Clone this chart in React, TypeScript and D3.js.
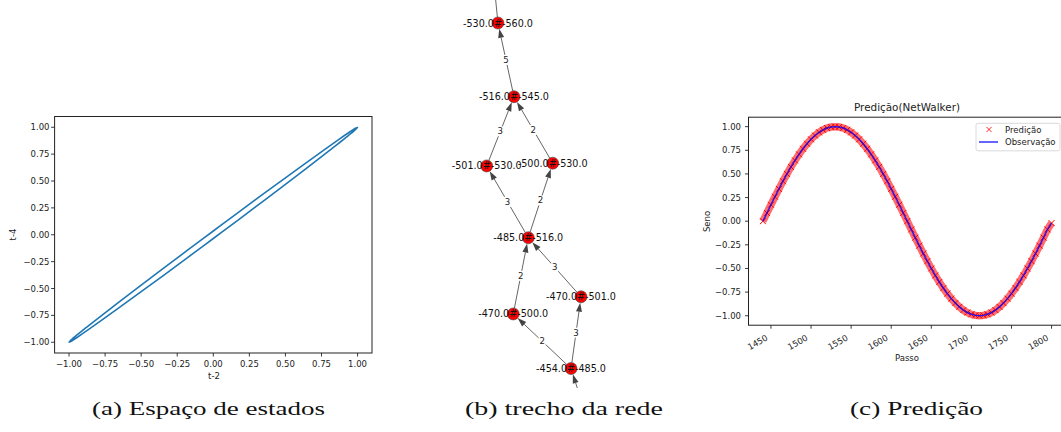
import * as d3 from "d3";

// (a) espaço de estados: pares (t-2, t-4), amostrados a cada 10 passos
const tMenos2 = [
  0, 0.174, 0.342, 0.5, 0.643, 0.766, 0.866, 0.94, 0.985, 1, 0.985, 0.94,
  0.866, 0.766, 0.643, 0.5, 0.342, 0.174, 0, -0.174, -0.342, -0.5, -0.643, -0.766,
  -0.866, -0.94, -0.985, -1, -0.985, -0.94, -0.866, -0.766, -0.643, -0.5, -0.342, -0.174,
];
const tMenos4 = [
  -0.035, 0.139, 0.309, 0.469, 0.616, 0.743, 0.848, 0.927, 0.978, 0.999, 0.99, 0.951,
  0.883, 0.788, 0.669, 0.53, 0.375, 0.208, 0.035, -0.139, -0.309, -0.469, -0.616, -0.743,
  -0.848, -0.927, -0.978, -0.999, -0.99, -0.951, -0.883, -0.788, -0.669, -0.53, -0.375, -0.208,
];
const ticksA = [-1, -0.75, -0.5, -0.25, 0, 0.25, 0.5, 0.75, 1];

// (b) trecho da rede: nós (posição do layout) e arestas com pesos
const nos = [
  "-530.0#-560.0", "-516.0#-545.0", "-501.0#-530.0", "-500.0#-530.0",
  "-485.0#-516.0", "-470.0#-501.0", "-470.0#-500.0", "-454.0#-485.0", "", "",
];
const noX = [-0.356, -0.178, -0.481, 0.252, -0.019, 0.567, -0.186, 0.456, -0.448, 0.711];
const noY = [0.882, 0.504, 0.149, 0.163, -0.219, -0.522, -0.61, -0.89, 1.308, -1.256];
const arestaOrigem = [7, 7, 6, 5, 4, 4, 2, 3, 1, 0, 9];
const arestaDestino = [6, 5, 4, 4, 2, 3, 1, 1, 0, 8, 7];
const arestaPeso = [2, 3, 2, 3, 3, 2, 3, 2, 5, null, null];

// (c) predição: passo, observação e predição (a cada 5 passos)
const passo = [
  1440, 1445, 1450, 1455, 1460, 1465, 1470, 1475, 1480, 1485, 1490, 1495,
  1500, 1505, 1510, 1515, 1520, 1525, 1530, 1535, 1540, 1545, 1550, 1555,
  1560, 1565, 1570, 1575, 1580, 1585, 1590, 1595, 1600, 1605, 1610, 1615,
  1620, 1625, 1630, 1635, 1640, 1645, 1650, 1655, 1660, 1665, 1670, 1675,
  1680, 1685, 1690, 1695, 1700, 1705, 1710, 1715, 1720, 1725, 1730, 1735,
  1740, 1745, 1750, 1755, 1760, 1765, 1770, 1775, 1780, 1785, 1790, 1795, 1800,
];
const observacao = [
  0, 0.087, 0.174, 0.259, 0.342, 0.423, 0.5, 0.574, 0.643, 0.707, 0.766, 0.819,
  0.866, 0.906, 0.94, 0.966, 0.985, 0.996, 1, 0.996, 0.985, 0.966, 0.94, 0.906,
  0.866, 0.819, 0.766, 0.707, 0.643, 0.574, 0.5, 0.423, 0.342, 0.259, 0.174, 0.087,
  0, -0.087, -0.174, -0.259, -0.342, -0.423, -0.5, -0.574, -0.643, -0.707, -0.766, -0.819,
  -0.866, -0.906, -0.94, -0.966, -0.985, -0.996, -1, -0.996, -0.985, -0.966, -0.94, -0.906,
  -0.866, -0.819, -0.766, -0.707, -0.643, -0.574, -0.5, -0.423, -0.342, -0.259, -0.174, -0.087, -0.02,
];
// a predição coincide com a observação na resolução da figura
const predicao = observacao;
const ticksCx = [1450, 1500, 1550, 1600, 1650, 1700, 1750, 1800];
const ticksCy = [-1, -0.75, -0.5, -0.25, 0, 0.25, 0.5, 0.75, 1];

const legendas = ["(a) Espaço de estados", "(b) trecho da rede", "(c) Predição"];

const fmt = (v: number) => d3.format(".2f")(v).replace("-", "\u2212");
const SANS = "DejaVu Sans";
const INK = "#222";

function PainelA() {
  const x = d3.scaleLinear().domain([-1.1, 1.1]).range([54.6, 372]);
  const y = d3.scaleLinear().domain([-1.1, 1.1]).range([353, 116.5]);
  const linha = d3
    .line<number>()
    .x((d) => x(tMenos2[d]))
    .y((d) => y(tMenos4[d]))
    .curve(d3.curveCatmullRomClosed);
  return (
    <g fontFamily={SANS} fontSize={8.5} fill={INK}>
      <path d={linha(d3.range(tMenos2.length)) || ""} fill="none" stroke="#1f77b4" strokeWidth={1.6} />
      <rect x={54.6} y={116.5} width={372 - 54.6} height={353 - 116.5} fill="none" stroke={INK} strokeWidth={1} />
      {ticksA.map((t) => (
        <g key={"x" + t}>
          <line x1={x(t)} x2={x(t)} y1={353} y2={356.5} stroke={INK} strokeWidth={0.9} />
          <text x={x(t)} y={363.5} textAnchor="middle" dominantBaseline="central">{fmt(t)}</text>
        </g>
      ))}
      {ticksA.map((t) => (
        <g key={"y" + t}>
          <line x1={51.1} x2={54.6} y1={y(t)} y2={y(t)} stroke={INK} strokeWidth={0.9} />
          <text x={49.5} y={y(t)} textAnchor="end" dominantBaseline="central">{fmt(t)}</text>
        </g>
      ))}
      <text x={214} y={375.5} textAnchor="middle" dominantBaseline="central">t-2</text>
      <text transform="translate(13,234.5) rotate(-90)" textAnchor="middle" dominantBaseline="central">t-4</text>
    </g>
  );
}

function PainelB() {
  const x = d3.scaleLinear().domain([-1, 1]).range([440, 620]);
  const y = d3.scaleLinear().domain([-1, 1]).range([390, 0]);
  const r = 6;
  const arestas = arestaOrigem.map((s, i) => {
    const t = arestaDestino[i];
    const x1 = x(noX[s]), y1 = y(noY[s]), x2 = x(noX[t]), y2 = y(noY[t]);
    const len = Math.hypot(x2 - x1, y2 - y1);
    const ux = (x2 - x1) / len, uy = (y2 - y1) / len;
    const tipX = x2 - ux * r, tipY = y2 - uy * r;
    const baseX = tipX - ux * 9, baseY = tipY - uy * 9;
    return {
      i,
      x1: x1 + ux * r, y1: y1 + uy * r, baseX, baseY,
      head: `${tipX},${tipY} ${baseX - uy * 3},${baseY + ux * 3} ${baseX + uy * 3},${baseY - ux * 3}`,
      mx: (x1 + x2) / 2, my: (y1 + y2) / 2,
      peso: arestaPeso[i],
    };
  });
  return (
    <g fontFamily={SANS} clipPath="url(#clipB)">
      {arestas.map((a) => (
        <g key={"e" + a.i}>
          <line x1={a.x1} y1={a.y1} x2={a.baseX} y2={a.baseY} stroke="#666" strokeWidth={1} />
          <polygon points={a.head} fill="#444" />
        </g>
      ))}
      {nos.map((n, i) => (
        <circle key={"n" + i} cx={x(noX[i])} cy={y(noY[i])} r={r} fill="#ff0000" stroke="#444" strokeWidth={0.6} />
      ))}
      {arestas.filter((a) => a.peso !== null).map((a) => (
        <g key={"l" + a.i}>
          <rect x={a.mx - 3.5} y={a.my - 5} width={7} height={10} fill="white" />
          <text x={a.mx} y={a.my} fontSize={8.6} fill="#222" textAnchor="middle" dominantBaseline="central">{a.peso}</text>
        </g>
      ))}
      {nos.map((n, i) =>
        n ? (
          <text key={"t" + i} x={x(noX[i])} y={y(noY[i])} fontSize={9.6} fill="#111" textAnchor="middle" dominantBaseline="central">{n}</text>
        ) : null
      )}
    </g>
  );
}

function PainelC() {
  const x = d3.scaleLinear().domain([1422, 1818]).range([748.5, 1066]);
  const y = d3.scaleLinear().domain([-1.1, 1.1]).range([325.2, 117.2]);
  const idx = d3.range(passo.length);
  const linhaObs = d3.line<number>().x((i) => x(passo[i])).y((i) => y(observacao[i])).curve(d3.curveCatmullRom);
  const linhaPred = d3.line<number>().x((i) => x(passo[i])).y((i) => y(predicao[i])).curve(d3.curveCatmullRom);
  const cruz = "M-3,-3L3,3M-3,3L3,-3";
  return (
    <g fontFamily={SANS} fontSize={8.5} fill={INK}>
      <path d={linhaPred(idx) || ""} fill="none" stroke="#ff3030" strokeOpacity={0.7} strokeWidth={7.5} />
      {idx.map((i) => (
        <path key={"p" + i} d={cruz} transform={`translate(${x(passo[i])},${y(predicao[i])})`} stroke="#ff0000" strokeWidth={1} />
      ))}
      <path d={linhaObs(idx) || ""} fill="none" stroke="#0000ff" strokeOpacity={0.8} strokeWidth={1.5} />
      <rect x={748.5} y={117.2} width={1066 - 748.5} height={325.2 - 117.2} fill="none" stroke={INK} strokeWidth={1} />
      {ticksCx.map((t) => (
        <g key={"x" + t}>
          <line x1={x(t)} x2={x(t)} y1={325.2} y2={328.7} stroke={INK} strokeWidth={0.9} />
          <text transform={`translate(${x(t) - 2.5},${339.5}) rotate(-30)`} textAnchor="end">{t}</text>
        </g>
      ))}
      {ticksCy.map((t) => (
        <g key={"y" + t}>
          <line x1={745} x2={748.5} y1={y(t)} y2={y(t)} stroke={INK} strokeWidth={0.9} />
          <text x={741} y={y(t)} textAnchor="end" dominantBaseline="central">{fmt(t)}</text>
        </g>
      ))}
      <text x={907} y={107} fontSize={10.4} textAnchor="middle" dominantBaseline="central">Predição(NetWalker)</text>
      <text x={907} y={358} textAnchor="middle" dominantBaseline="central">Passo</text>
      <text transform="translate(707,221.5) rotate(-90)" textAnchor="middle" dominantBaseline="central">Seno</text>
      <rect x={976} y={123.3} width={84} height={27.5} rx={2} fill="white" fillOpacity={0.8} stroke="#d0d0d0" strokeWidth={0.8} />
      <path d={cruz} transform="translate(989,129.5) scale(0.85)" stroke="#ff0000" strokeWidth={1} />
      <text x={1005} y={129.5} dominantBaseline="central">{"Predição"}</text>
      <line x1={979} x2={998} y1={142} y2={142} stroke="#0000ff" strokeOpacity={0.8} strokeWidth={1.5} />
      <text x={1005} y={142} dominantBaseline="central">{"Observação"}</text>
    </g>
  );
}

export default function App() {
  const centros = [208.5, 564, 916.5];
  const larguras = [233, 198, 133];
  return (
    <svg width={1061} height={432} style={{ position: "absolute", left: 0, top: 0, background: "white" }}>
      <defs>
        <clipPath id="clipB">
          <rect x={420} y={0} width={220} height={388} />
        </clipPath>
      </defs>
      <rect width={1061} height={432} fill="white" />
      <PainelA />
      <PainelB />
      <PainelC />
      {legendas.map((t, i) => (
        <text key={t} x={centros[i]} y={415} fontFamily="Liberation Serif" fontSize={18.5} fill="#111" textAnchor="middle" textLength={larguras[i]} lengthAdjust="spacingAndGlyphs">{t}</text>
      ))}
    </svg>
  );
}
